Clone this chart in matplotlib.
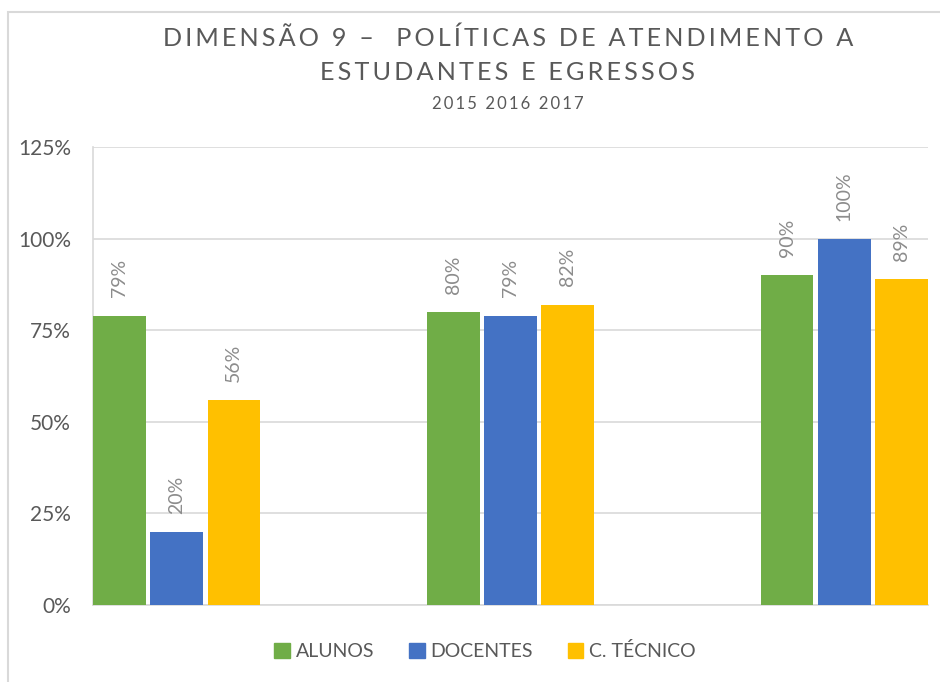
import matplotlib.pyplot as plt
import matplotlib.patches as mpatches
import numpy as np

plt.rcParams['font.family'] = ['Lato', 'DejaVu Sans']

groups = ["2015", "2016", "2017"]
series = ["ALUNOS", "DOCENTES", "C. TÉCNICO"]
alunos = [0.79, 0.80, 0.90]
docentes = [0.20, 0.79, 1.00]
tecnico = [0.56, 0.82, 0.89]
colors = ["#70ad47", "#4472c4", "#ffc000"]

title_1 = "DIMENSÃO 9 –  POLÍTICAS DE ATENDIMENTO A"
title_2 = "ESTUDANTES E EGRESSOS"
subtitle = "2015 2016 2017"


def spaced(s):
    # widen letter spacing with thin spaces
    return "\u2009".join(s)


W, H = 940, 682
fig = plt.figure(figsize=(W / 100, H / 100), dpi=100)
ax = fig.add_axes([93 / W, 1 - 605 / H, (928 - 93) / W, (605 - 147) / H])

x = np.arange(len(groups))
width = 0.157
step = 0.171
for i, (name, vals) in enumerate(zip(series, [alunos, docentes, tecnico])):
    pos = x + (i - 1) * step
    ax.bar(pos, vals, width, color=colors[i], label=name, zorder=3)
    for px, v in zip(pos, vals):
        ax.annotate(f"{v:.0%}", (px, v), xytext=(0, 13), textcoords="offset points",
                    rotation=90, ha="center", va="bottom", fontsize=14,
                    color="#8c8c8c", zorder=4)

ax.set_xlim(-step - width / 2 - 0.001, 2 + step + width / 2 + 0.001)
ax.set_ylim(0, 1.25)
ax.set_yticks([0, 0.25, 0.5, 0.75, 1.0, 1.25])
ax.set_yticklabels(["0%", "25%", "50%", "75%", "100%", "125%"])
ax.yaxis.grid(True, color="#d9d9d9", linewidth=1.2, zorder=0)
ax.set_xticks([])
ax.tick_params(axis="y", length=0, pad=16, labelsize=15, labelcolor="#595959")
for side in ["top", "right"]:
    ax.spines[side].set_visible(False)
for side in ["left", "bottom"]:
    ax.spines[side].set_color("#d9d9d9")
    ax.spines[side].set_linewidth(1.2)

# outer chart frame
fig.patches.append(mpatches.Rectangle((8 / W, -0.1), 1.1, 1 - 12 / H + 0.1,
                                      transform=fig.transFigure, fill=False,
                                      edgecolor="#d9d9d9", linewidth=1.5))

cx = 508 / W
fig.text(cx, 1 - 38 / H, spaced(title_1), ha="center", va="center",
         fontsize=18.2, color="#595959")
fig.text(cx, 1 - 73 / H, spaced(title_2), ha="center", va="center",
         fontsize=18.2, color="#595959")
fig.text(cx, 1 - 104 / H, spaced(subtitle), ha="center", va="center",
         fontsize=12, color="#595959")

handles = [mpatches.Patch(color=c) for c in colors]
fig.legend(handles, series, loc="center", bbox_to_anchor=(485 / W, 1 - 651 / H),
           ncol=3, frameon=False, fontsize=14, labelcolor="#595959",
           handlelength=0.8, handleheight=0.8, handletextpad=0.3, columnspacing=1.8)

fig.savefig("out.png", dpi=100)
